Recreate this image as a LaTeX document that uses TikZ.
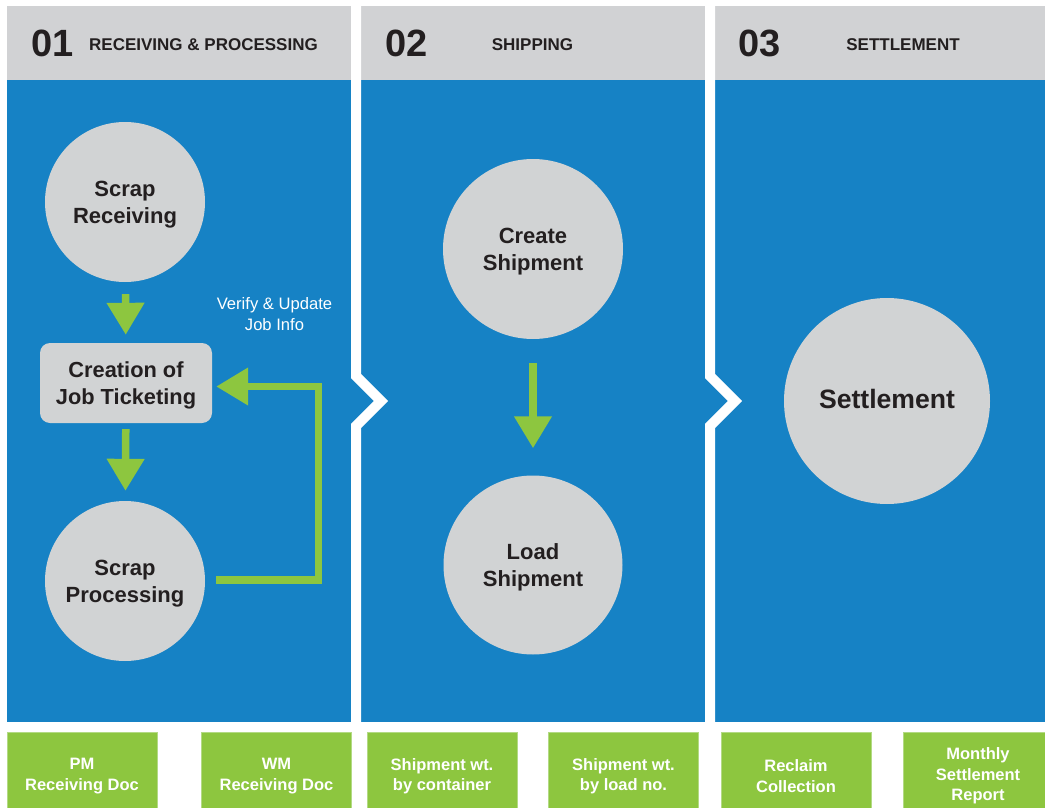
\documentclass[tikz,border=0pt]{standalone}
\usepackage{fontspec}
\setmainfont{Liberation Sans}
\usetikzlibrary{arrows.meta}
\definecolor{pblue}{HTML}{1682C5}
\definecolor{hgray}{HTML}{D1D2D4}
\definecolor{cgray}{HTML}{D1D3D4}
\definecolor{agreen}{HTML}{8DC63F}
\definecolor{bedge}{HTML}{B3DA84}
\definecolor{dark}{HTML}{231F20}
\begin{document}
\begin{tikzpicture}[x=1pt,y=-1pt,
  circ/.style={circle, fill=cgray, inner sep=0pt, align=center, text=dark, text depth=0pt,
    font=\fontsize{22}{27}\selectfont\bfseries},
  jobbox/.style={rectangle, rounded corners=10pt, fill=cgray, inner sep=0pt, text depth=0pt,
    minimum width=172pt, minimum height=80pt, align=center, text=dark,
    font=\fontsize{21.8}{26.5}\selectfont\bfseries},
  docbox/.style={rectangle, fill=agreen, draw=bedge, line width=0.8pt, inner sep=0pt,
    minimum width=150pt, minimum height=88pt, align=center, text=white,
    font=\fontsize{16.5}{20.5}\selectfont\bfseries},
  numtext/.style={anchor=base, inner sep=0pt, text=dark, font=\fontsize{38}{40}\selectfont\bfseries},
  headtext/.style={anchor=base, inner sep=0pt, text=dark, font=\fontsize{17}{20}\selectfont\bfseries},
  notetext/.style={inner sep=0pt, align=center, text=white, font=\fontsize{16.6}{21}\selectfont},
  garrow/.style={draw=agreen, line width=7.5pt, line join=miter,
    -{Triangle[width=36pt,length=32pt]}},
  sep/.style={draw=white, line width=10pt, line join=miter}
]
\useasboundingbox (0,0) rectangle (1045,808);
\clip (0,0) rectangle (1045,808);
\fill[white] (0,0) rectangle (1045,808);
% panels
\fill[hgray] (7,6) rectangle (1045,80);
\fill[pblue] (7,80) rectangle (1045,722);
\draw[sep] (356,0) -- (356,376) -- (381,401) -- (356,426) -- (356,722);
\draw[sep] (710,0) -- (710,376) -- (735,401) -- (710,426) -- (710,722);
% headers
\node[numtext] (n1) at (52.5,57) {01};
\node[headtext] (h1) at (203.5,51) {RECEIVING \& PROCESSING};
\node[numtext] (n2) at (407,57) {02};
\node[headtext] (h2) at (532.5,51) {SHIPPING};
\node[numtext] (n3) at (759.5,57) {03};
\node[headtext] (h3) at (903,51) {SETTLEMENT};
% column 1
\node[circ, minimum size=160pt] (sr) at (125,202) {Scrap\\Receiving};
\node[jobbox] (job) at (126,383) {Creation of\\Job Ticketing};
\node[circ, minimum size=160pt] (sp) at (125,581) {Scrap\\Processing};
\node[notetext] (note) at (274.5,314) {Verify \& Update\\Job Info};
\coordinate (fb) at (318.5,580);
\draw[garrow, shorten <=12pt, shorten >=8pt] (sr) -- (job);
\draw[garrow, shorten <=6pt, shorten >=10pt] (job) -- (sp);
\draw[garrow, shorten <=11pt, shorten >=4pt] (sp.east |- fb) -- (fb) |- ([yshift=-3.5pt]job.east);
% column 2
\node[circ, minimum size=180pt] (cs) at (533,249) {Create\\Shipment};
\node[circ, minimum size=179pt] (ls) at (533,565) {Load\\Shipment};
\draw[garrow, shorten <=24pt, shorten >=27pt] (cs) -- (ls);
% column 3
\node[circ, minimum size=206pt, text depth=5pt, font=\fontsize{26.6}{30}\selectfont\bfseries] (st) at (887,401) {Settlement};
% bottom documents
\node[docbox] (d1) at (82,776) {PM\\Receiving Doc};
\node[docbox] (d2) at (276.5,776) {WM\\Receiving Doc};
\node[docbox] (d3) at (442,776) {Shipment wt.\\by container};
\node[docbox] (d4) at (623.5,776) {Shipment wt.\\by load no.};
\node[docbox] (d5) at (796,776) {Reclaim\\Collection};
\node[docbox] (d6) at (978,776) {Monthly\\Settlement\\Report};
\end{tikzpicture}
\end{document}
